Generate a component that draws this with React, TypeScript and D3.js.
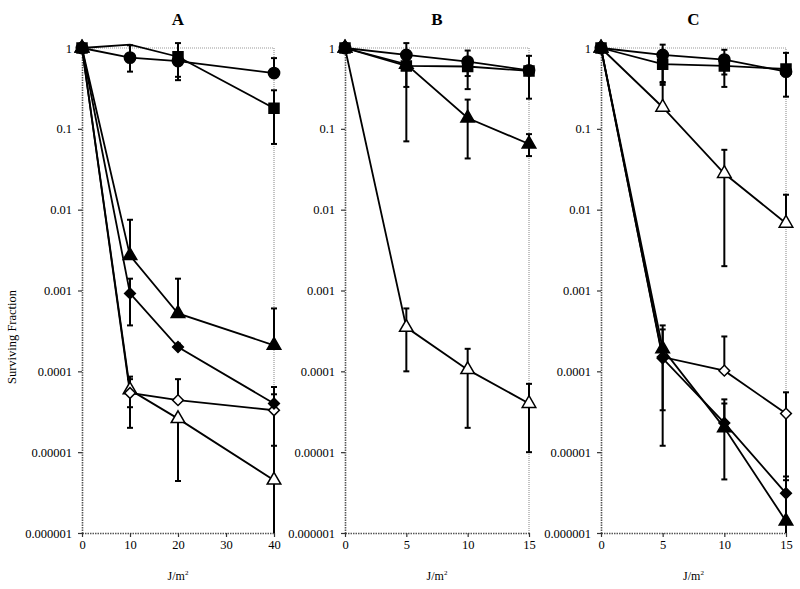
import React, { useEffect, useRef } from "react";
import * as d3 from "d3";

type Val = number | null;

// doses (J/m2)
const doseA = [0, 10, 20, 40];
const doseBC = [0, 5, 10, 15];
const xTicksA = [0, 10, 20, 30, 40];
const xTicksBC = [0, 5, 10, 15];
const yTicks = [1, 0.1, 0.01, 0.001, 0.0001, 0.00001, 0.000001];
const yTickLabels = ["1", "0.1", "0.01", "0.001", "0.0001", "0.00001", "0.000001"];
const panelTitles = ["A", "B", "C"];

// Panel A
const aCircle = [1, 0.76, 0.69, 0.49];
const aCircleHi: Val[] = [null, 1.08, null, 0.75];
const aCircleLo: Val[] = [null, 0.51, 0.44, null];
const aSquare = [1, 1.1, 0.78, 0.18];
const aSquareHi: Val[] = [null, null, 1.15, 0.3];
const aSquareLo: Val[] = [null, null, 0.4, 0.065];
const aTriFilled = [1, 0.0027, 0.00052, 0.00021];
const aTriFilledHi: Val[] = [null, 0.0075, 0.0014, 0.0006];
const aTriFilledLo: Val[] = [null, null, null, null];
const aDiaFilled = [1, 0.00092, 0.0002, 0.00004];
const aDiaFilledHi: Val[] = [null, 0.0014, 0.00022, null];
const aDiaFilledLo: Val[] = [null, 0.00037, 0.00019, null];
const aDiaOpen = [1, 0.000054, 0.000044, 0.000033];
const aDiaOpenHi: Val[] = [null, 0.00008, 0.00008, 0.000064];
const aDiaOpenLo: Val[] = [null, 0.00002, null, 0.000012];
const aTriOpen = [1, 0.000059, 0.000026, 0.0000045];
const aTriOpenHi: Val[] = [null, 0.000086, 0.000028, 0.000052];
const aTriOpenLo: Val[] = [null, 0.000036, 0.0000044, 0.000001];

// Panel B
const bCircle = [1, 0.82, 0.68, 0.53];
const bCircleHi: Val[] = [null, 1.15, 0.93, null];
const bCircleLo: Val[] = [null, null, 0.45, null];
const bSquare = [1, 0.6, 0.59, 0.52];
const bSquareHi: Val[] = [null, null, null, 0.8];
const bSquareLo: Val[] = [null, 0.33, 0.31, 0.236];
const bTriFilled = [1, 0.63, 0.136, 0.065];
const bTriFilledHi: Val[] = [null, null, 0.23, 0.086];
const bTriFilledLo: Val[] = [null, 0.07, 0.043, 0.046];
const bTriOpen = [1, 0.00035, 0.000105, 0.00004];
const bTriOpenHi: Val[] = [null, 0.0006, 0.00019, 0.00007];
const bTriOpenLo: Val[] = [null, 0.0001, 0.00002, 0.00001];

// Panel C
const cCircle = [1, 0.82, 0.72, 0.51];
const cCircleHi: Val[] = [null, 1.1, 0.95, null];
const cCircleLo: Val[] = [null, 0.38, 0.47, null];
const cSquare = [1, 0.63, 0.6, 0.55];
const cSquareHi: Val[] = [null, null, null, 0.87];
const cSquareLo: Val[] = [null, 0.35, 0.33, 0.25];
const cTriOpen = [1, 0.185, 0.028, 0.0068];
const cTriOpenHi: Val[] = [null, 0.37, 0.055, 0.0153];
const cTriOpenLo: Val[] = [null, null, 0.002, null];
const cTriFilled = [1, 0.00019, 0.00002, 0.0000014];
const cTriFilledHi: Val[] = [null, 0.00037, 0.000045, 0.0000045];
const cTriFilledLo: Val[] = [null, 0.000033, 0.0000046, null];
const cDiaFilled = [1, 0.000145, 0.000023, 0.0000031];
const cDiaFilledHi: Val[] = [null, 0.00033, 0.00004, 0.000005];
const cDiaFilledLo: Val[] = [null, 0.000012, null, null];
const cDiaOpen = [1, 0.00015, 0.000102, 0.00003];
const cDiaOpenHi: Val[] = [null, null, 0.00027, 0.000055];
const cDiaOpenLo: Val[] = [null, null, null, 0.000001];

interface Series {
  shape: "circle" | "square" | "triangle" | "diamond";
  filled: boolean;
  values: number[];
  hi: Val[];
  lo: Val[];
}

const panels = [
  {
    x0: 82, x1: 274, dose: doseA, ticks: xTicksA,
    series: [
      { shape: "triangle", filled: false, values: aTriOpen, hi: aTriOpenHi, lo: aTriOpenLo },
      { shape: "diamond", filled: false, values: aDiaOpen, hi: aDiaOpenHi, lo: aDiaOpenLo },
      { shape: "diamond", filled: true, values: aDiaFilled, hi: aDiaFilledHi, lo: aDiaFilledLo },
      { shape: "triangle", filled: true, values: aTriFilled, hi: aTriFilledHi, lo: aTriFilledLo },
      { shape: "circle", filled: true, values: aCircle, hi: aCircleHi, lo: aCircleLo },
      { shape: "square", filled: true, values: aSquare, hi: aSquareHi, lo: aSquareLo },
    ] as Series[],
  },
  {
    x0: 345, x1: 529, dose: doseBC, ticks: xTicksBC,
    series: [
      { shape: "triangle", filled: false, values: bTriOpen, hi: bTriOpenHi, lo: bTriOpenLo },
      { shape: "triangle", filled: true, values: bTriFilled, hi: bTriFilledHi, lo: bTriFilledLo },
      { shape: "circle", filled: true, values: bCircle, hi: bCircleHi, lo: bCircleLo },
      { shape: "square", filled: true, values: bSquare, hi: bSquareHi, lo: bSquareLo },
    ] as Series[],
  },
  {
    x0: 601, x1: 786, dose: doseBC, ticks: xTicksBC,
    series: [
      { shape: "diamond", filled: false, values: cDiaOpen, hi: cDiaOpenHi, lo: cDiaOpenLo },
      { shape: "diamond", filled: true, values: cDiaFilled, hi: cDiaFilledHi, lo: cDiaFilledLo },
      { shape: "triangle", filled: true, values: cTriFilled, hi: cTriFilledHi, lo: cTriFilledLo },
      { shape: "triangle", filled: false, values: cTriOpen, hi: cTriOpenHi, lo: cTriOpenLo },
      { shape: "circle", filled: true, values: cCircle, hi: cCircleHi, lo: cCircleLo },
      { shape: "square", filled: true, values: cSquare, hi: cSquareHi, lo: cSquareLo },
    ] as Series[],
  },
];

const FONT = "'Liberation Serif', 'DejaVu Serif', serif";

function App() {
  const ref = useRef<SVGSVGElement>(null);

  useEffect(() => {
    const svg = d3.select(ref.current);
    svg.selectAll("*").remove();

    const yTop = 48;
    const yBottom = 533;
    const y = d3.scaleLog().domain([0.000001, 1]).range([yBottom, yTop]);
    const clampV = (v: number) => Math.max(0.000001, v);

    const symbols: Record<string, any> = {
      circle: d3.symbol().type(d3.symbolCircle).size(100),
      square: d3.symbol().type(d3.symbolSquare).size(100),
      triangle: d3.symbol().type(d3.symbolTriangle).size(80),
      diamond: d3.symbol().type(d3.symbolSquare).size(58),
    };

    panels.forEach((p, pi) => {
      const x = d3.scaleLinear().domain([0, p.ticks[p.ticks.length - 1]]).range([p.x0, p.x1]);
      const g = svg.append("g");

      // frame (top and right)
      g.append("path")
        .attr("d", `M${p.x0},${yTop}H${p.x1}V${yBottom}`)
        .attr("fill", "none")
        .attr("stroke", "#9a9a9a")
        .attr("stroke-width", 1.2)
        .attr("stroke-dasharray", "1,1");

      const yAxis = g
        .append("g")
        .attr("transform", `translate(${p.x0},0)`)
        .call(
          d3.axisLeft(y)
            .tickValues(yTicks)
            .tickFormat((_d, i) => yTickLabels[i])
            .tickSize(4)
            .tickSizeOuter(0)
            .tickPadding(6)
        );
      const xAxis = g
        .append("g")
        .attr("transform", `translate(0,${yBottom})`)
        .call(d3.axisBottom(x).tickValues(p.ticks).tickSize(4).tickSizeOuter(0).tickPadding(3));

      [yAxis, xAxis].forEach((ax) => {
        ax.select(".domain")
          .attr("stroke", "#555")
          .attr("stroke-width", 1.6)
          .attr("stroke-dasharray", "1.5,1");
        ax.selectAll(".tick line").attr("stroke", "#333").attr("stroke-width", 1.2);
        ax.selectAll(".tick text")
          .attr("fill", "#000")
          .style("font-family", FONT)
          .style("font-size", "12.5px");
      });

      // title
      g.append("text")
        .attr("x", (p.x0 + p.x1) / 2)
        .attr("y", 25)
        .attr("text-anchor", "middle")
        .style("font-family", FONT)
        .style("font-size", "17px")
        .style("font-weight", "bold")
        .text(panelTitles[pi]);

      // x label
      const xl = g
        .append("text")
        .attr("x", (p.x0 + p.x1) / 2)
        .attr("y", 580)
        .attr("text-anchor", "middle")
        .style("font-family", FONT)
        .style("font-size", "12px");
      xl.append("tspan").text("J/m");
      xl.append("tspan").attr("dy", -5).style("font-size", "7px").text("2");

      const line = d3
        .line<number>()
        .x((_d, i) => x(p.dose[i]))
        .y((d) => y(d));

      p.series.forEach((s) => {
        g.append("path")
          .datum(s.values)
          .attr("d", line)
          .attr("fill", "none")
          .attr("stroke", "#000")
          .attr("stroke-width", 1.8);
      });

      // error bars
      p.series.forEach((s) => {
        s.values.forEach((v, i) => {
          const hi = s.hi[i];
          const lo = s.lo[i];
          if (hi == null && lo == null) return;
          const cx = x(p.dose[i]);
          const yh = y(hi ?? v);
          const yl = y(clampV(lo ?? v));
          g.append("line")
            .attr("x1", cx).attr("x2", cx)
            .attr("y1", yh).attr("y2", yl)
            .attr("stroke", "#000").attr("stroke-width", 2);
          if (hi != null)
            g.append("line").attr("x1", cx - 3).attr("x2", cx + 3).attr("y1", yh).attr("y2", yh)
              .attr("stroke", "#000").attr("stroke-width", 2);
          if (lo != null && lo > 0.000001)
            g.append("line").attr("x1", cx - 3).attr("x2", cx + 3).attr("y1", yl).attr("y2", yl)
              .attr("stroke", "#000").attr("stroke-width", 2);
        });
      });

      // markers (points above the axis maximum get no marker)
      p.series.forEach((s) => {
        g.selectAll(null)
          .data(s.values.map((v, i) => ({ v, i })).filter((d) => d.v <= 1))
          .enter()
          .append("path")
          .attr("d", symbols[s.shape]())
          .attr("transform", (d) =>
            `translate(${x(p.dose[d.i])},${y(d.v)})` + (s.shape === "diamond" ? " rotate(45)" : "")
          )
          .attr("fill", s.filled ? "#000" : "#fff")
          .attr("stroke", "#000")
          .attr("stroke-width", 1.5);
      });
    });

    // y label
    svg
      .append("text")
      .attr("transform", "translate(16,337) rotate(-90)")
      .attr("text-anchor", "middle")
      .style("font-family", FONT)
      .style("font-size", "12.5px")
      .text("Surviving Fraction");
  }, []);

  return (
    <svg
      ref={ref}
      width={800}
      height={589}
      style={{ position: "absolute", left: 0, top: 0, background: "#fff" }}
    />
  );
}

export default App;
